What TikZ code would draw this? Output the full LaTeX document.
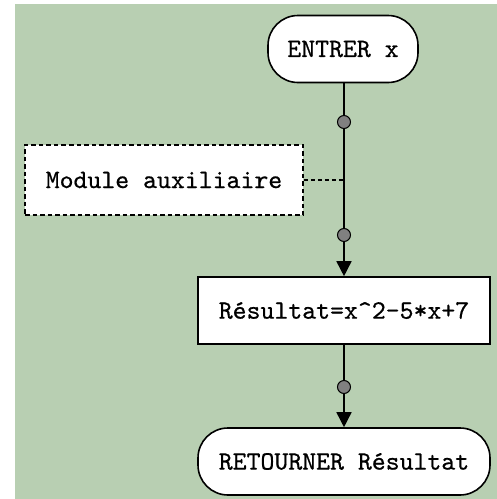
\documentclass[tikz,border=0pt]{standalone}
\usepackage{fontspec}
\newfontfamily\boxfont{lmmono10-regular.otf}[FakeBold=0.6]
\usetikzlibrary{arrows.meta}
\definecolor{pagegreen}{RGB}{184,207,178}
\definecolor{dotgray}{RGB}{128,128,128}
\tikzset{
  box/.style={draw=black, line width=1.6pt, fill=white, font=\boxfont\fontsize{26.5}{30}\selectfont,
    inner sep=0pt, minimum height=67pt},
  terminal/.style={box, rounded corners=30pt},
  auxbox/.style={box, dash pattern=on 4.5pt off 3pt, minimum height=70pt},
  flow/.style={draw=black, line width=1.6pt},
  junction/.style={circle, draw=black, line width=1pt, fill=dotgray, minimum size=13pt, inner sep=0pt},
  tip/.style={-{Triangle[width=15pt,length=15pt]}}
}
\begin{document}
\begin{tikzpicture}[x=1pt,y=-1pt]
  \useasboundingbox (0,0) rectangle (497,499);
  \fill[pagegreen] (15,4) rectangle (497,499);

  % boxes
  \node[terminal, minimum width=150pt] (entrer) at (343,49) {ENTRER x};
  \node[auxbox, minimum width=278pt] (module) at (164,180) {Module auxiliaire};
  \node[box, minimum width=292pt] (result) at (344,310.5) {Résultat=x\string^2-5*x+7};
  \node[terminal, minimum width=292pt] (retour) at (344,461.5) {RETOURNER Résultat};

  % main flow
  \coordinate (join) at (module.east -| result.north);
  \draw[flow, tip] (entrer.south -| result.north) -- (result.north);
  \draw[flow, tip] (result.south) -- (retour.north);
  \draw[line width=1.4pt, dash pattern=on 4pt off 3pt] (module.east) -- (join);

  % junction dots
  \node[junction] (d1) at (344,122) {};
  \node[junction] (d2) at (344,235) {};
  \node[junction] (d3) at (344,387) {};
\end{tikzpicture}
\end{document}
